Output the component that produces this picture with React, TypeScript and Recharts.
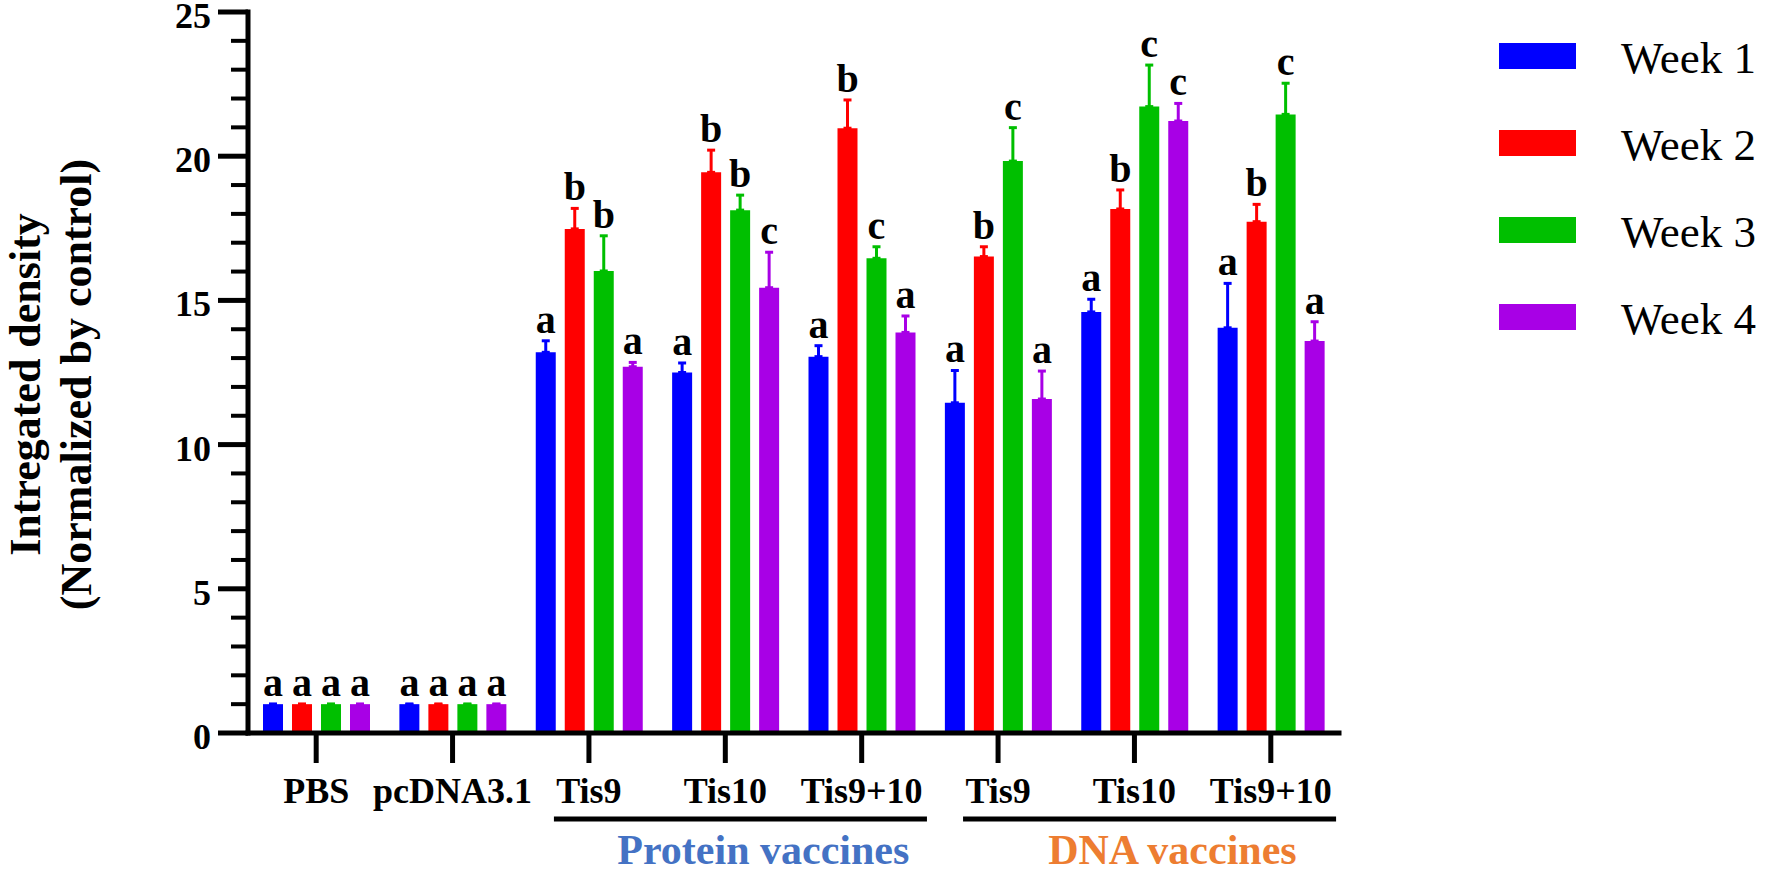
import React from 'react';
import {
  BarChart,
  Bar,
  XAxis,
  YAxis,
  Legend,
  ErrorBar,
  LabelList,
} from 'recharts';

const FONT = '"Liberation Serif", "DejaVu Serif", "Times New Roman", Times, serif';

// categories along the x axis
const CATEGORIES = ['PBS', 'pcDNA3.1', 'Tis9', 'Tis10', 'Tis9+10', 'Tis9', 'Tis10', 'Tis9+10'];

// mean values per week
const WEEK1 = [1.0, 1.0, 13.2, 12.5, 13.05, 11.45, 14.6, 14.05];
const WEEK2 = [1.0, 1.0, 17.48, 19.44, 20.97, 16.52, 18.17, 17.73];
const WEEK3 = [1.0, 1.0, 16.02, 18.13, 16.46, 19.83, 21.72, 21.45];
const WEEK4 = [1.0, 1.0, 12.7, 15.44, 13.89, 11.58, 21.22, 13.59];

// upper error (SD)
const WEEK1_ERR = [0, 0, 0.4, 0.33, 0.38, 1.12, 0.44, 1.54];
const WEEK2_ERR = [0, 0, 0.71, 0.77, 0.98, 0.34, 0.66, 0.6];
const WEEK3_ERR = [0, 0, 1.22, 0.52, 0.4, 1.16, 1.44, 1.08];
const WEEK4_ERR = [0, 0, 0.15, 1.23, 0.57, 0.97, 0.61, 0.67];

// significance letters
const WEEK1_SIG = ['a', 'a', 'a', 'a', 'a', 'a', 'a', 'a'];
const WEEK2_SIG = ['a', 'a', 'b', 'b', 'b', 'b', 'b', 'b'];
const WEEK3_SIG = ['a', 'a', 'b', 'b', 'c', 'c', 'c', 'c'];
const WEEK4_SIG = ['a', 'a', 'a', 'c', 'a', 'a', 'c', 'a'];

const Y_TICKS = [0, 1, 2, 3, 4, 5, 6, 7, 8, 9, 10, 11, 12, 13, 14, 15, 16, 17, 18, 19, 20, 21, 22, 23, 24, 25];

const GROUPS = [
  { name: 'Protein vaccines', color: '#4472C4', from: 2, to: 4 },
  { name: 'DNA vaccines', color: '#ED7D31', from: 5, to: 7 },
];

const SERIES = [
  { key: 'w1', name: 'Week 1', color: '#0000FF', values: WEEK1, errs: WEEK1_ERR, sigs: WEEK1_SIG },
  { key: 'w2', name: 'Week 2', color: '#FF0000', values: WEEK2, errs: WEEK2_ERR, sigs: WEEK2_SIG },
  { key: 'w3', name: 'Week 3', color: '#00BF00', values: WEEK3, errs: WEEK3_ERR, sigs: WEEK3_SIG },
  { key: 'w4', name: 'Week 4', color: '#A800E6', values: WEEK4, errs: WEEK4_ERR, sigs: WEEK4_SIG },
];

const data = CATEGORIES.map((label, i) => {
  const row: any = { id: `c${i}`, idx: i, label };
  SERIES.forEach((s) => {
    row[s.key] = s.values[i];
    row[`${s.key}e`] = [0, s.errs[i]];
  });
  return row;
});

const W = 1771;
const H = 874;
const MARGIN = { top: 12, right: 432, bottom: 0, left: 0 };
const YAXIS_W = 248;
const STEP = (W - MARGIN.left - MARGIN.right - YAXIS_W) / CATEGORIES.length;

// rough Times Bold advance widths (em)
const CHAR_W: Record<string, number> = {
  T: 0.667, i: 0.278, s: 0.389, '9': 0.5, '1': 0.5, '0': 0.5, '+': 0.57,
};
const textWidth = (t: string, size: number) =>
  t.split('').reduce((sum, c) => sum + (CHAR_W[c] ?? 0.5), 0) * size;

const txt = { fontFamily: FONT };

const XTick = (props: any) => {
  const { x, y, payload } = props;
  const i = payload?.index ?? props.index;
  const label = CATEGORIES[i];
  const start = GROUPS.find((g) => g.from === i);
  const mid = GROUPS.find((g) => Math.round((g.from + g.to) / 2) === i);
  return (
    <g>
      <line x1={x} y1={y} x2={x} y2={y + 30} stroke="#000" strokeWidth={5} />
      <text x={x} y={y + 70} textAnchor="middle" fontSize={36} fontWeight="bold" style={txt} fill="#000">
        {label}
      </text>
      {start && (
        <line
          x1={x - textWidth(CATEGORIES[start.from], 36) / 2 - 2}
          x2={x + (start.to - start.from) * STEP + textWidth(CATEGORIES[start.to], 36) / 2 + 4}
          y1={y + 86}
          y2={y + 86}
          stroke="#000"
          strokeWidth={5}
        />
      )}
      {mid && (
        <text x={x + 38} y={y + 131} textAnchor="middle" fontSize={42} fontWeight="bold" style={txt} fill={mid.color}>
          {mid.name}
        </text>
      )}
    </g>
  );
};

const YTick = (props: any) => {
  const { x, y, payload } = props;
  const v = payload.value;
  const major = v % 5 === 0;
  return (
    <g>
      <line x1={x} y1={y} x2={x - (major ? 30 : 17)} y2={y} stroke="#000" strokeWidth={major ? 5 : 4} />
      {major && (
        <text x={x - 37} y={y + 4} textAnchor="end" dominantBaseline="central" fontSize={36} fontWeight="bold" style={txt} fill="#000">
          {v}
        </text>
      )}
    </g>
  );
};

const YTitle = (props: any) => {
  const vb = props.viewBox ?? props;
  const cy = vb.y + vb.height / 2 + 12;
  const lines = ['Intregated density', '(Normalized by control)'];
  const xs = [vb.x + 25, vb.x + 76];
  return (
    <g>
      {lines.map((t, k) => (
        <text
          key={k}
          x={xs[k]}
          y={cy}
          transform={`rotate(-90 ${xs[k]} ${cy})`}
          textAnchor="middle"
          dominantBaseline="central"
          fontSize={44}
          fontWeight="bold"
          style={txt}
          fill="#000"
        >
          {t}
        </text>
      ))}
    </g>
  );
};

const makeLetter = (s: (typeof SERIES)[number]) => (props: any) => {
  const vb = props.viewBox ?? props;
  const x = vb.x ?? props.x;
  const y = vb.y ?? props.y;
  const w = vb.width ?? props.width;
  const h = vb.height ?? props.height;
  const i = props.value;
  const v = s.values[i];
  const ppu = Math.abs(h) / v;
  const top = Math.min(y, y + h) - s.errs[i] * ppu;
  return (
    <text x={x + w / 2} y={top - 8} textAnchor="middle" fontSize={40} fontWeight="bold" style={txt} fill="#000">
      {s.sigs[i]}
    </text>
  );
};

const LEGEND_PAD = 20;

const renderLegend = (props: any) => {
  const payload = props.payload || [];
  return (
    <svg width={268} height={390} style={{ display: 'block' }}>
      {payload.map((p: any, i: number) => (
        <g key={i}>
          <rect x={0} y={LEGEND_PAD + i * 87} width={77} height={26} fill={p.color} />
          <text x={122} y={LEGEND_PAD + i * 87 + 15} fontSize={45} style={txt} dominantBaseline="central" fill="#000">
            {p.value}
          </text>
        </g>
      ))}
    </svg>
  );
};

export default function App() {
  return (
    <div style={{ position: 'absolute', left: 0, top: 0, width: W, height: H, background: '#fff', fontFamily: FONT }}>
      <BarChart width={W} height={H} data={data} margin={MARGIN} barGap={9}>
        <XAxis
          dataKey="id"
          type="category"
          height={H - 733}
          interval={0}
          tickLine={false}
          tickSize={0}
          tickMargin={0}
          axisLine={{ stroke: '#000', strokeWidth: 5, strokeLinecap: 'square' }}
          tick={<XTick />}
        />
        <YAxis
          type="number"
          domain={[0, 25]}
          allowDataOverflow
          ticks={Y_TICKS}
          interval={0}
          width={YAXIS_W}
          tickLine={false}
          tickSize={0}
          tickMargin={0}
          axisLine={{ stroke: '#000', strokeWidth: 5, strokeLinecap: 'square' }}
          tick={<YTick />}
          label={{ content: YTitle }}
        />
        <Legend
          layout="vertical"
          align="center"
          verticalAlign="middle"
          content={renderLegend}
          wrapperStyle={{ left: 1499, top: 43 - LEGEND_PAD, width: 268, height: 390 }}
        />
        {SERIES.map((s) => (
          <Bar key={s.key} dataKey={s.key} name={s.name} fill={s.color} barSize={20} isAnimationActive={false}>
            <ErrorBar
              dataKey={`${s.key}e`}
              direction="y"
              width={4}
              strokeWidth={3}
              stroke={s.color}
              isAnimationActive={false}
            />
            <LabelList dataKey="idx" content={makeLetter(s)} />
          </Bar>
        ))}
      </BarChart>
    </div>
  );
}
